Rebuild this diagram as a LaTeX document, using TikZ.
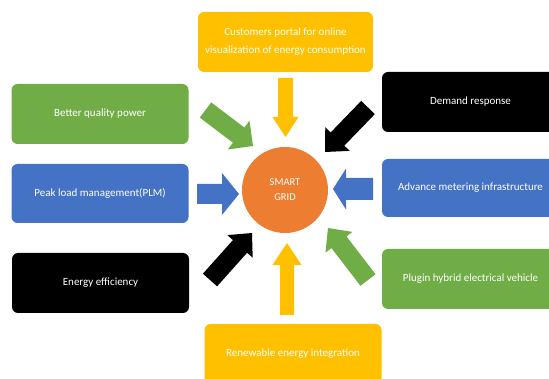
\documentclass[tikz,border=0pt]{standalone}
\usepackage{fontspec}
\setmainfont{Carlito}
\usetikzlibrary{calc}
\definecolor{cgreen}{HTML}{70AD47}
\definecolor{cblue}{HTML}{4472C4}
\definecolor{cyellow}{HTML}{FFC000}
\definecolor{corange}{HTML}{ED7D31}
\newcommand{\myblockarrow}[6]{% colour, tail, tip, shaft half width, head half width, head length
  \coordinate (hb) at ($(#3)!#6!(#2)$);
  \fill[#1] ($(#2)!#4!90:(#3)$) -- ($(hb)!#4!90:(#3)$) -- ($(hb)!#5!90:(#3)$) -- (#3)
    -- ($(hb)!#5!-90:(#3)$) -- ($(hb)!#4!-90:(#3)$) -- ($(#2)!#4!-90:(#3)$) -- cycle;
}
\tikzset{
  box/.style={rounded corners=6pt, minimum width=177pt, minimum height=60pt,
    text=white, font=\fontsize{11}{18}\selectfont, align=center, inner sep=0pt},
}
\begin{document}
\begin{tikzpicture}[x=1pt,y=-1pt]
\useasboundingbox (0,0) rectangle (549,379);
\clip (0,0) rectangle (549,379);
\fill[white] (0,0) rectangle (549,379);
% boxes
\node[box, fill=cyellow, minimum width=175pt] (top) at (285.5,42) {Customers portal for online\\visualization of energy consumption};
\node[box, fill=cgreen] (bqp) at (100,114) {Better quality power};
\node[box, fill=cblue, minimum height=59pt] (plm) at (100,193.5) {Peak load management(PLM)};
\node[box, fill=black] (ee) at (100.5,283) {Energy efficiency};
\node[box, fill=black] (dr) at (470.5,102) {Demand response};
\node[box, fill=cblue, minimum height=58pt] (ami) at (470.5,188) {Advance metering infrastructure};
\node[box, fill=cgreen] (phev) at (470.5,279) {Plugin hybrid electrical vehicle};
\node[box, fill=cyellow] (rei) at (293,354) {Renewable energy integration};
% centre
\node[circle, fill=corange, minimum size=86pt, inner sep=0pt, text=white,
  font=\fontsize{10.5}{15}\selectfont, align=center] (sg) at (285,190) {SMART\\GRID};
% arrow ends
\coordinate (t1) at (285.5,78);  \coordinate (p1) at (285.5,137);
\coordinate (t2) at (287,315);   \coordinate (p2) at (287,243);
\coordinate (t3) at (197,194);   \coordinate (p3) at (239,194);
\coordinate (t4) at (373,189);   \coordinate (p4) at (333,189);
\coordinate (t5) at (205.5,110); \coordinate (p5) at (253,146);
\coordinate (t6) at (368,107.5); \coordinate (p6) at (325,152);
\coordinate (t7) at (210,280);   \coordinate (p7) at (252,233);
\coordinate (t8) at (368,280);   \coordinate (p8) at (328,228);
% arrows
\myblockarrow{cyellow}{t1}{p1}{7.5pt}{13pt}{20pt}
\myblockarrow{cyellow}{t2}{p2}{7pt}{14.5pt}{22pt}
\myblockarrow{cblue}{t3}{p3}{10pt}{21pt}{17pt}
\myblockarrow{cblue}{t4}{p4}{11pt}{20.5pt}{13pt}
\myblockarrow{cgreen}{t5}{p5}{9.5pt}{18pt}{18pt}
\myblockarrow{black}{t6}{p6}{9.5pt}{17pt}{18pt}
\myblockarrow{black}{t7}{p7}{9.5pt}{17pt}{18pt}
\myblockarrow{cgreen}{t8}{p8}{9.5pt}{17pt}{18pt}
\end{tikzpicture}
\end{document}
